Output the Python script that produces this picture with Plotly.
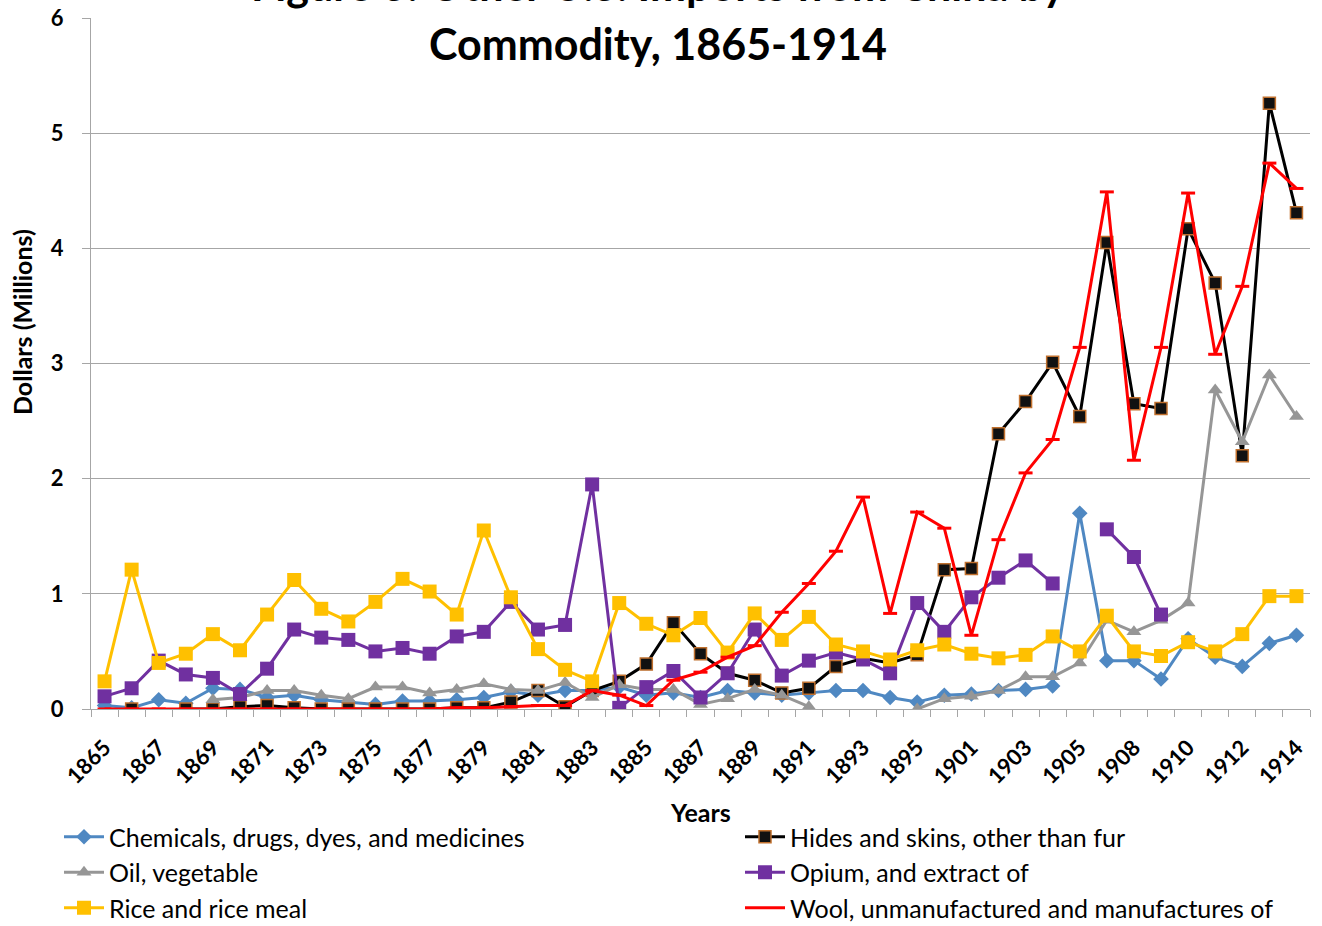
import plotly.graph_objects as go

years = ["1865", "1866", "1867", "1868", "1869", "1870", "1871", "1872", "1873", "1874",
         "1875", "1876", "1877", "1878", "1879", "1880", "1881", "1882", "1883", "1884",
         "1885", "1886", "1887", "1888", "1889", "1890", "1891", "1892", "1893", "1894",
         "1895", "1900", "1901", "1902", "1903", "1904", "1905", "1906", "1908", "1909",
         "1910", "1911", "1912", "1913", "1914"]

chemicals = [0.03, 0.01, 0.08, 0.05, 0.18, 0.17, 0.10, 0.12, 0.08, 0.06,
             0.04, 0.07, 0.07, 0.08, 0.10, 0.15, 0.12, 0.16, 0.16, 0.19,
             0.12, 0.14, 0.10, 0.16, 0.14, 0.12, 0.14, 0.16, 0.16, 0.10,
             0.06, 0.12, 0.13, 0.16, 0.17, 0.20, 1.70, 0.42, 0.42, 0.26,
             0.61, 0.45, 0.37, 0.57, 0.64]

hides = [None, 0.0, None, 0.0, 0.0, 0.02, 0.03, 0.01, 0.0, 0.0,
         0.0, 0.0, 0.0, 0.01, 0.01, 0.06, 0.16, 0.02, 0.16, 0.24,
         0.39, 0.75, 0.48, 0.31, 0.25, 0.14, 0.18, 0.37, 0.44, 0.40,
         0.47, 1.21, 1.22, 2.39, 2.67, 3.01, 2.54, 4.05, 2.65, 2.61,
         4.17, 3.70, 2.20, 5.26, 4.31]

oil = [None, None, None, None, 0.08, 0.10, 0.16, 0.16, 0.12, 0.09,
       0.19, 0.19, 0.14, 0.17, 0.22, 0.17, 0.16, 0.23, 0.10, 0.21,
       0.17, 0.17, 0.04, 0.09, 0.17, 0.12, 0.02, None, None, None,
       0.0, 0.09, 0.11, 0.16, 0.28, 0.28, 0.40, 0.77, 0.67, 0.77,
       0.92, 2.77, 2.32, 2.90, 2.54]

opium = [0.11, 0.18, 0.42, 0.30, 0.27, 0.13, 0.35, 0.69, 0.62, 0.60,
         0.50, 0.53, 0.48, 0.63, 0.67, 0.93, 0.69, 0.73, 1.95, 0.01,
         0.19, 0.33, 0.10, 0.31, 0.69, 0.29, 0.42, 0.49, 0.43, 0.31,
         0.92, 0.67, 0.97, 1.14, 1.29, 1.09, None, 1.56, 1.32, 0.82,
         None, None, None, None, None]

rice = [0.24, 1.21, 0.40, 0.48, 0.65, 0.51, 0.82, 1.12, 0.87, 0.76,
        0.93, 1.13, 1.02, 0.82, 1.55, 0.97, 0.52, 0.34, 0.24, 0.92,
        0.74, 0.64, 0.79, 0.49, 0.83, 0.60, 0.80, 0.56, 0.50, 0.43,
        0.51, 0.56, 0.48, 0.44, 0.47, 0.63, 0.50, 0.81, 0.50, 0.46,
        0.58, 0.50, 0.65, 0.98, 0.98]

wool = [0.0, 0.0, 0.0, 0.0, 0.0, 0.0, 0.0, 0.0, 0.0, 0.0,
        0.0, 0.0, 0.0, 0.01, 0.01, 0.02, 0.03, 0.03, 0.16, 0.12,
        0.03, 0.25, 0.32, 0.45, 0.55, 0.84, 1.09, 1.37, 1.84, 0.83,
        1.71, 1.57, 0.64, 1.47, 2.05, 2.34, 3.14, 4.49, 2.16, 3.14,
        4.48, 3.08, 3.67, 4.74, 4.52]

x = list(range(len(years)))
FONT = "Lato"
GRID = "#a6a6a6"

fig = go.Figure()

fig.add_trace(go.Scatter(
    x=x, y=chemicals, name="Chemicals, drugs, dyes, and medicines",
    mode="lines+markers", connectgaps=False, legend="legend",
    line=dict(color="#4f88c2", width=3),
    marker=dict(symbol="diamond", size=12, color="#4f88c2")))

fig.add_trace(go.Scatter(
    x=x, y=hides, name="Hides and skins, other than fur",
    mode="lines+markers", connectgaps=False, legend="legend2",
    line=dict(color="#000000", width=3),
    marker=dict(symbol="square", size=12, color="#111111",
                line=dict(color="#c0702e", width=1.5))))

fig.add_trace(go.Scatter(
    x=x, y=oil, name="Oil, vegetable",
    mode="lines+markers", connectgaps=False, legend="legend",
    line=dict(color="#969696", width=3),
    marker=dict(symbol="triangle-up", size=13, color="#969696")))

fig.add_trace(go.Scatter(
    x=x, y=opium, name="Opium, and extract of",
    mode="lines+markers", connectgaps=False, legend="legend2",
    line=dict(color="#7030a0", width=3),
    marker=dict(symbol="square", size=14, color="#7030a0")))

fig.add_trace(go.Scatter(
    x=x, y=rice, name="Rice and rice meal",
    mode="lines+markers", connectgaps=False, legend="legend",
    line=dict(color="#ffc000", width=3),
    marker=dict(symbol="square", size=14, color="#ffc000")))

fig.add_trace(go.Scatter(
    x=x, y=wool, name="Wool, unmanufactured and manufactures of",
    mode="lines", connectgaps=False, legend="legend2",
    line=dict(color="#ff0000", width=3)))

fig.add_trace(go.Scatter(
    x=x, y=wool, name="Wool markers", showlegend=False,
    mode="markers",
    marker=dict(symbol="line-ew", size=10, color="#ff0000",
                line=dict(color="#ff0000", width=3))))

legend_common = dict(orientation="v", xanchor="left", yanchor="top",
                     y=(709 - 814) / 691,
                     font=dict(family=FONT, size=25, color="#000000"),
                     traceorder="normal", itemwidth=40, bgcolor="rgba(0,0,0,0)")

fig.update_layout(
    width=1322, height=926,
    margin=dict(l=91, r=12, t=18, b=217, autoexpand=False),
    paper_bgcolor="white", plot_bgcolor="white",
    font=dict(family=FONT, color="#000000", size=20),
    showlegend=True,
    legend=dict(x=(59 - 91) / 1219, **legend_common),
    legend2=dict(x=(740 - 91) / 1219, **legend_common),
)

fig.update_xaxes(
    range=[-0.5, len(years) - 0.5],
    tickmode="array", tickvals=x[::2], ticktext=years[::2],
    tickangle=-45, ticks="", showgrid=False, zeroline=False,
    showline=True, linecolor=GRID, linewidth=1,
    tickfont=dict(family=FONT, size=22, weight="bold"),
    ticklabelstandoff=16, automargin=False,
    minor=dict(tickmode="linear", tick0=-0.5, dtick=1, ticks="outside",
               ticklen=7, tickcolor=GRID, tickwidth=1, showgrid=False),
)

fig.update_yaxes(
    range=[0, 6], dtick=1, tick0=0,
    showgrid=True, gridcolor=GRID, gridwidth=1, zeroline=False,
    showline=True, linecolor=GRID, linewidth=1,
    ticks="outside", ticklen=8, tickcolor=GRID,
    tickfont=dict(family=FONT, size=22, weight="bold"),
    ticklabelstandoff=14, automargin=False,
)

fig.add_annotation(text="<b>Figure 3: Other U.S. Imports from China by</b>",
                   xref="paper", yref="paper", x=0.465, y=(709 - (-16)) / 691,
                   xanchor="center", yanchor="middle", showarrow=False,
                   font=dict(family=FONT, size=43))
fig.add_annotation(text="<b>Commodity, 1865-1914</b>",
                   xref="paper", yref="paper", x=0.465, y=(709 - 43) / 691,
                   xanchor="center", yanchor="middle", showarrow=False,
                   font=dict(family=FONT, size=43))
fig.add_annotation(text="<b>Years</b>", xref="paper", yref="paper",
                   x=0.5, y=(709 - 812) / 691, xanchor="center", yanchor="middle",
                   showarrow=False, font=dict(family=FONT, size=25))
fig.add_annotation(text="<b>Dollars (Millions)</b>", xref="paper", yref="paper",
                   x=(22 - 91) / 1219, y=(709 - 322) / 691, textangle=-90,
                   xanchor="center", yanchor="middle",
                   showarrow=False, font=dict(family=FONT, size=25))

fig.write_html("out.html")
